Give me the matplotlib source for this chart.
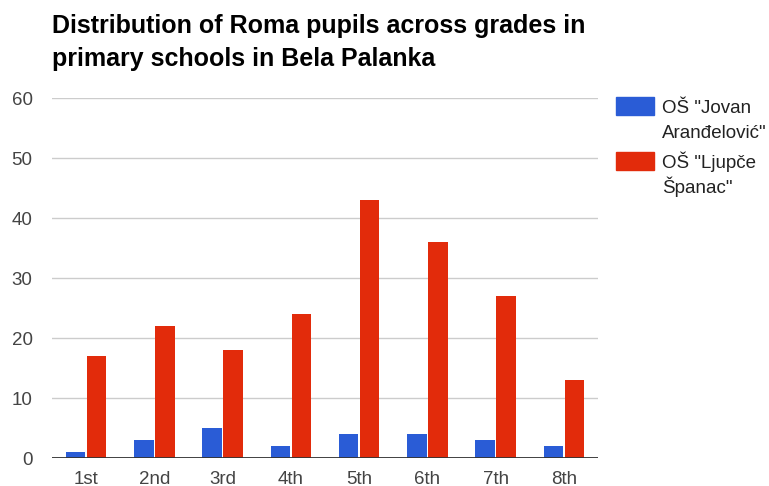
import matplotlib.pyplot as plt
from matplotlib.patches import Rectangle
import numpy as np

plt.rcParams['font.family'] = ['Liberation Sans', 'DejaVu Sans']

# data
grades = ["1st", "2nd", "3rd", "4th", "5th", "6th", "7th", "8th"]
jovan = [1, 3, 5, 2, 4, 4, 3, 2]
ljupce = [17, 22, 18, 24, 43, 36, 27, 13]
series_names = ['OŠ "Jovan\nAranđelović"', 'OŠ "Ljupče\nŠpanac"']
colors = ["#2a5cd6", "#e22b0b"]
y_ticks = [0, 10, 20, 30, 40, 50, 60]
title = "Distribution of Roma pupils across grades in\nprimary schools in Bela Palanka"

W, H = 769, 486
fig = plt.figure(figsize=(W / 100, H / 100), dpi=100)
ax = fig.add_axes([52 / W, (H - 458) / H, 546 / W, 360 / H])

x = np.arange(len(grades))
bw = 0.285
ax.bar(x - 0.155, jovan, bw, color=colors[0], zorder=3)
ax.bar(x + 0.155, ljupce, bw, color=colors[1], zorder=3)

ax.set_xlim(-0.5, len(grades) - 0.5)
ax.set_ylim(0, 60)
ax.set_yticks(y_ticks)
ax.set_xticks(x)
ax.set_xticklabels(grades)
ax.tick_params(length=0, labelsize=13.5, colors="#444444")
ax.tick_params(axis="y", pad=14)
ax.tick_params(axis="x", pad=9)
ax.grid(axis="y", color="#cccccc", linewidth=1, zorder=0)
for s in ax.spines.values():
    s.set_visible(False)
ax.axhline(0, color="#333333", linewidth=1.3, zorder=4)

# title, one line at a time so the baselines land right
for i, line in enumerate(title.split("\n")):
    fig.text(52 / W, 1 - (33 + 33 * i) / H, line, ha="left", va="baseline",
             fontsize=18, fontweight="bold", color="#000000")

# legend drawn by hand (square next to first line of a two-line label)
leg_y = [97, 152]
for name, c, yy in zip(series_names, colors, leg_y):
    fig.add_artist(Rectangle((616 / W, 1 - (yy + 18) / H), 38 / W, 18 / H,
                             transform=fig.transFigure, color=c))
    for i, line in enumerate(name.split("\n")):
        fig.text(662 / W, 1 - (yy + 16 + 25 * i) / H, line, ha="left", va="baseline",
                 fontsize=13.5, color="#222222")

fig.savefig("out.png", dpi=100)
